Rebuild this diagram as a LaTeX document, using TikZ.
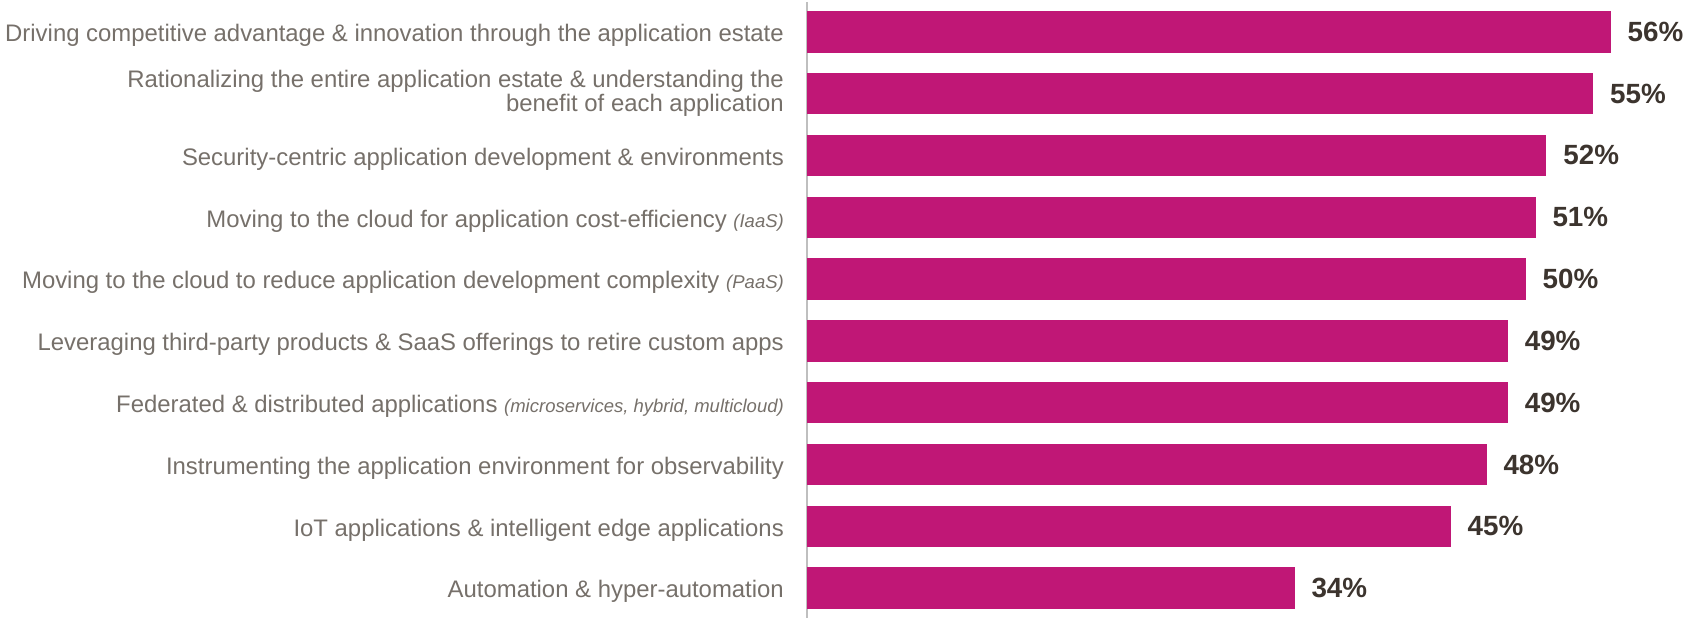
\documentclass[tikz,border=0pt]{standalone}
\usepackage{fontspec}
\setmainfont{Liberation Sans}
\usetikzlibrary{positioning}

\definecolor{barmagenta}{RGB}{192,23,118}
\definecolor{labelgrey}{RGB}{118,112,106}
\definecolor{valuebrown}{RGB}{60,52,46}
\definecolor{axisgrey}{RGB}{191,191,191}

\tikzset{
	appbar/.style={fill=barmagenta, inner sep=0pt, minimum height=41.5pt, anchor=west},
	catlabel/.style={text=labelgrey, inner sep=0pt, anchor=base east, font=\fontsize{23.9}{24}\selectfont},
	pctlabel/.style={text=valuebrown, inner sep=0pt, font=\fontsize{27.8}{30}\selectfont\bfseries},
	axisline/.style={draw=axisgrey, line width=1.5pt}
}
\newcommand{\aside}[1]{{\fontsize{18.5}{20}\selectfont\itshape #1}}

\begin{document}
\begin{tikzpicture}[x=1pt, y=-1pt]
		\useasboundingbox (0,0) rectangle (1684,618);
		
		% axis
		\coordinate (axtop) at (807,2);
		\coordinate (axbot) at (807,618);
		\draw[axisline] (axtop) -- (axbot);
		
		% bars
		\node[appbar, minimum width=803.5pt] (b1) at (807,31.8) {};
		\node[appbar, minimum width=786pt] (b2) at (807,93.6) {};
		\node[appbar, minimum width=739.2pt] (b3) at (807,155.4) {};
		\node[appbar, minimum width=728.3pt] (b4) at (807,217.3) {};
		\node[appbar, minimum width=718.5pt] (b5) at (807,279.1) {};
		\node[appbar, minimum width=700.6pt] (b6) at (807,340.9) {};
		\node[appbar, minimum width=700.6pt] (b7) at (807,402.7) {};
		\node[appbar, minimum width=679.3pt] (b8) at (807,464.5) {};
		\node[appbar, minimum width=643.5pt] (b9) at (807,526.4) {};
		\node[appbar, minimum width=487.3pt] (b10) at (807,588.2) {};
		
		% values
		\node[pctlabel, right=16.6pt of b1] (v1) {56\%};
		\node[pctlabel, right=16.6pt of b2] (v2) {55\%};
		\node[pctlabel, right=16.6pt of b3] (v3) {52\%};
		\node[pctlabel, right=16.6pt of b4] (v4) {51\%};
		\node[pctlabel, right=16.6pt of b5] (v5) {50\%};
		\node[pctlabel, right=16.6pt of b6] (v6) {49\%};
		\node[pctlabel, right=16.6pt of b7] (v7) {49\%};
		\node[pctlabel, right=16.6pt of b8] (v8) {48\%};
		\node[pctlabel, right=16.6pt of b9] (v9) {45\%};
		\node[pctlabel, right=16.6pt of b10] (v10) {34\%};
		
		% categories
		\node[catlabel] (c1) at (784,41.5) {Driving competitive advantage \& innovation through the application estate};
		\node[catlabel, anchor=east, align=right] (c2) at (784,93.6) {Rationalizing the entire application estate \& understanding the\\benefit of each application};
		\node[catlabel] (c3) at (784,165.1) {Security-centric application development \& environments};
		\node[catlabel] (c4) at (784,227.0) {Moving to the cloud for application cost-efficiency \aside{(IaaS)}};
		\node[catlabel] (c5) at (784,288.8) {Moving to the cloud to reduce application development complexity \aside{(PaaS)}};
		\node[catlabel] (c6) at (784,350.6) {Leveraging third-party products \& SaaS offerings to retire custom apps};
		\node[catlabel] (c7) at (784,412.4) {Federated \& distributed applications \aside{(microservices, hybrid, multicloud)}};
		\node[catlabel] (c8) at (784,474.2) {Instrumenting the application environment for observability};
		\node[catlabel] (c9) at (784,536.1) {IoT applications \& intelligent edge applications};
		\node[catlabel] (c10) at (784,597.9) {Automation \& hyper-automation};
		
	\end{tikzpicture}
\end{document}
